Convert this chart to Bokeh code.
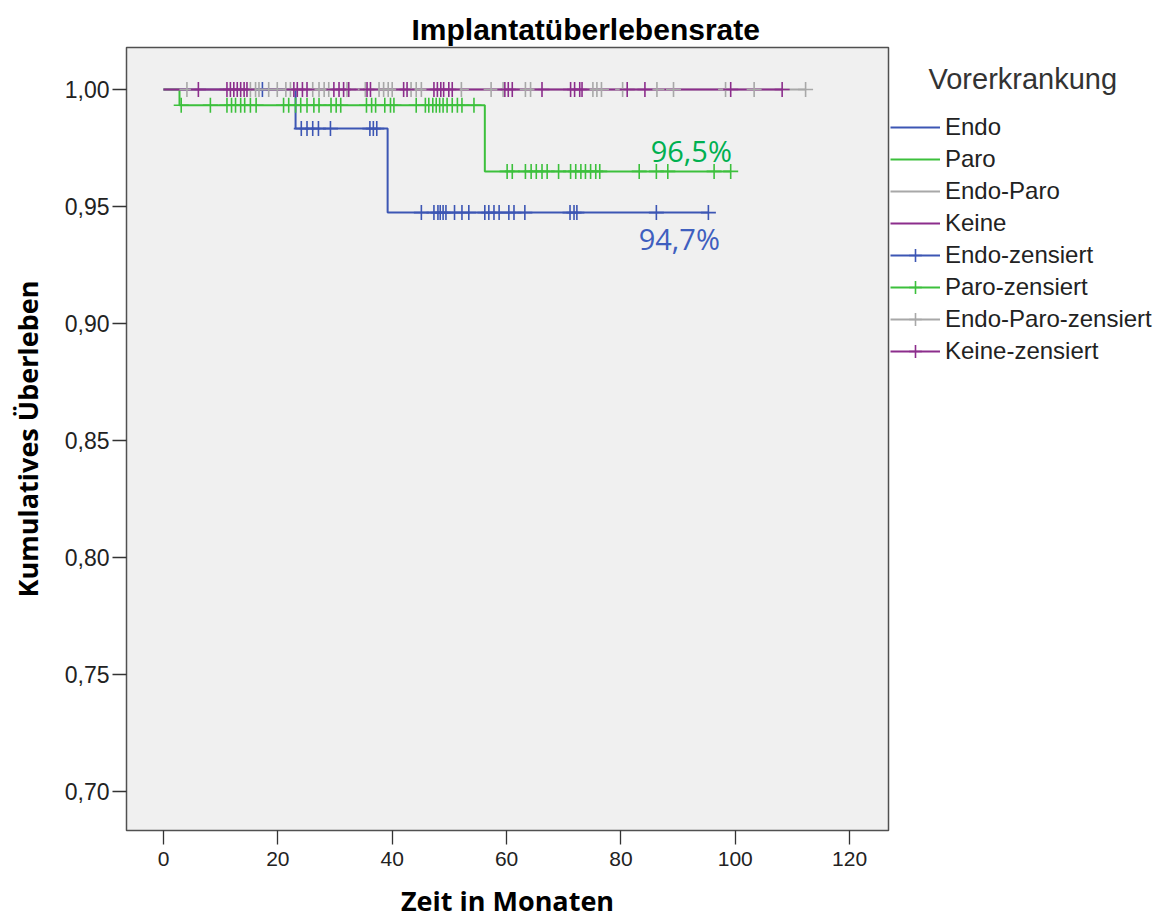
import numpy as np
from bokeh.plotting import figure
from bokeh.layouts import row
from bokeh.models import (Range1d, FixedTicker, CustomJSTickFormatter, Legend,
                          LegendItem, Label)
from bokeh.embed import file_html
from bokeh.resources import INLINE

# ---------------- data ----------------
groups = ["Endo", "Paro", "Endo-Paro", "Keine"]
colors = ["#3C56B4", "#3CC03C", "#A8A8A8", "#8C2D8C"]

endo_event_t = [23.1, 39.2]
endo_event_s = [0.9833, 0.9474]
endo_censor = [17.3, 24.1, 25.1, 26.1, 27.1, 29.2, 36.1, 36.7, 37.3,
               45.1, 47.3, 48.0, 48.4, 48.9, 49.4, 50.9, 52.2, 53.4, 56.2,
               56.9, 57.8, 58.7, 60.4, 61.3, 63.2, 71.1, 71.8, 72.3, 86.2, 95.3]

paro_event_t = [2.8, 56.2]
paro_event_s = [0.9933, 0.965]
paro_censor = [3.1, 8.2, 11.1, 11.9, 12.6, 13.5, 14.2, 15.2, 16.2, 21.0, 21.9,
               23.1, 24.0, 25.1, 26.3, 27.2, 29.3, 30.2, 31.0, 35.5, 36.4, 37.1,
               38.7, 39.7, 40.3, 44.2, 45.8, 46.4, 47.1, 47.7, 48.3, 48.9, 49.6,
               50.5, 51.4, 52.2, 54.3,
               60.1, 61.0, 63.3, 64.3, 65.2, 66.2, 67.1, 69.1, 71.2, 72.1, 73.0,
               73.8, 74.7, 75.6, 76.3, 83.2, 86.2, 88.2, 96.3, 99.2]

endoparo_event_t = []
endoparo_event_s = []
endoparo_censor = [4.1, 15.2, 16.1, 16.7, 18.4, 19.9, 21.4, 22.2, 26.1, 27.2,
                   28.1, 28.9, 32.1, 35.3, 37.7, 38.5, 39.3, 40.0, 43.3, 44.2,
                   45.1, 52.1, 57.3, 59.4, 63.3, 64.2, 75.1, 75.8, 76.6, 80.3,
                   86.3, 89.2, 98.3, 103.3, 112.3]

keine_event_t = []
keine_event_s = []
keine_censor = [6.1, 11.1, 11.7, 12.3, 12.9, 13.5, 14.1, 14.6, 22.8, 23.4,
                24.3, 25.1, 29.8, 30.7, 31.5, 32.4, 35.6, 36.2, 42.0, 42.6,
                47.3, 47.9, 48.5, 49.0, 49.9, 50.5, 59.7, 60.3, 61.0, 66.2,
                71.2, 71.9, 72.8, 73.2, 81.1, 84.2, 99.2, 108.2]

x_ticks = [0, 20, 40, 60, 80, 100, 120]
y_ticks = [0.70, 0.75, 0.80, 0.85, 0.90, 0.95, 1.00]

series = [
    (endo_event_t, endo_event_s, endo_censor),
    (paro_event_t, paro_event_s, paro_censor),
    (endoparo_event_t, endoparo_event_s, endoparo_censor),
    (keine_event_t, keine_event_s, keine_censor),
]


def surv_at(t, ev_t, ev_s):
    s = 1.0
    for et, es in zip(ev_t, ev_s):
        if et <= t:
            s = es
    return s


# ---------------- main figure ----------------
p = figure(width=890, height=923, output_backend="svg", toolbar_location=None,
           x_range=Range1d(-6.47, 126.8), y_range=Range1d(0.68333, 1.01795),
           min_border_left=126, min_border_right=2, min_border_top=47,
           min_border_bottom=93)

p.background_fill_color = "#F0F0F0"
p.border_fill_color = "white"
p.outline_line_color = "#505050"
p.outline_line_width = 1.5
p.xgrid.visible = False
p.ygrid.visible = False

p.title.text = "Implantatüberlebensrate"
p.title.align = "left"
p.title.offset = 285
p.title.standoff = 3
p.title.text_font = "Liberation Sans"
p.title.text_font_size = "30px"
p.title.text_font_style = "bold"
p.title.text_color = "black"

for ax in (p.xaxis[0], p.yaxis[0]):
    ax.axis_line_color = None
    ax.major_tick_in = 0
    ax.major_tick_out = 14
    ax.major_tick_line_color = "#333333"
    ax.major_tick_line_width = 1.3
    ax.minor_tick_line_color = None
    ax.major_label_text_font = "Liberation Sans"
    ax.major_label_text_color = "#222222"
    ax.axis_label_text_font = "Open Sans"
    ax.axis_label_text_font_size = "27px"
    ax.axis_label_text_font_style = "bold"
    ax.axis_label_text_color = "black"

p.xaxis.major_label_text_font_size = "21px"
p.yaxis.major_label_text_font_size = "23px"
p.xaxis.ticker = FixedTicker(ticks=x_ticks)
p.yaxis.ticker = FixedTicker(ticks=y_ticks)
p.yaxis.formatter = CustomJSTickFormatter(code="return tick.toFixed(2).replace('.', ',');")
p.xaxis.axis_label = "Zeit in Monaten"
p.yaxis.axis_label = "Kumulatives Überleben"
p.xaxis.major_label_standoff = 7
p.yaxis.major_label_standoff = 3
p.xaxis.axis_label_standoff = 13
p.yaxis.axis_label_standoff = 16

for (ev_t, ev_s, cens), c in zip(series, colors):
    xs = [0.0] + list(ev_t) + [max(cens)]
    ys = [1.0] + list(ev_s) + [ev_s[-1] if ev_s else 1.0]
    p.step(xs, ys, mode="after", line_color=c, line_width=2)

for (ev_t, ev_s, cens), c in zip(series, colors):
    cy = [surv_at(t, ev_t, ev_s) for t in cens]
    p.scatter(cens, cy, marker="cross", size=15, line_color=c, line_width=1.6)


def pct(v):
    return f"{v * 100:.1f}%".replace(".", ",")


p.add_layout(Label(x=85.2, y=paro_event_s[-1] + 0.0090, text=pct(paro_event_s[-1]),
                   text_color="#00B050", text_font="Open Sans", text_font_size="29px",
                   text_baseline="alphabetic"))
p.add_layout(Label(x=83.1, y=endo_event_s[-1] - 0.0111, text=pct(endo_event_s[-1]),
                   text_color="#3F5FBF", text_font="Open Sans", text_font_size="29px",
                   text_baseline="alphabetic"))

# ---------------- legend panel (separate figure on the right) ----------------
# ranges in page pixels so the key can be placed like the reference
lg = figure(width=276, height=923, output_backend="svg", toolbar_location=None,
            x_range=Range1d(890, 1166), y_range=Range1d(830, 47),
            x_axis_location=None, y_axis_location=None,
            min_border_left=0, min_border_right=0, min_border_top=47,
            min_border_bottom=93)
lg.outline_line_color = None
lg.xgrid.visible = False
lg.ygrid.visible = False
lg.background_fill_color = "white"
lg.border_fill_color = "white"

nan = np.array([np.nan])
key_lines = [lg.step(x=nan, y=nan, mode="after", line_color=c, line_width=2) for c in colors]
key_marks = [lg.scatter(x=nan, y=nan, marker="cross", line_color=c, line_width=1.6)
             for c in colors]

items = [LegendItem(label=g, renderers=[r]) for g, r in zip(groups, key_lines)]
items += [LegendItem(label=g + "-zensiert", renderers=[r, m])
          for g, r, m in zip(groups, key_lines, key_marks)]
legend = Legend(items=items, location=(0, 463), padding=0, margin=0,
                spacing=0, glyph_width=50, glyph_height=32, label_height=32,
                label_standoff=5, label_text_font="Liberation Sans",
                label_text_font_size="24px", label_text_color="#222222",
                background_fill_alpha=0, border_line_color=None)
lg.add_layout(legend, "center")

lg.add_layout(Label(x=928, y=78, text="Vorerkrankung", text_font="Liberation Sans",
                    text_font_size="29px", text_color="#333333",
                    text_baseline="alphabetic"))

open("out.html", "w").write(file_html(row(p, lg), INLINE))
